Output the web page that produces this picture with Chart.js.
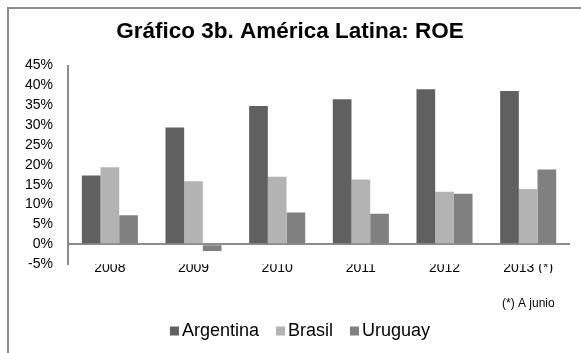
<!DOCTYPE html>
<html>
<head>
<meta charset="utf-8">
<script src="https://cdn.jsdelivr.net/npm/chart.js@4/dist/chart.umd.min.js"></script>
<style>
  html, body { margin: 0; padding: 0; background: #fff; }
  #wrap {
    position: relative;
    width: 581px;
    height: 353px;
    overflow: hidden;
  }
  #frame {
    position: absolute;
    left: 7px;
    top: 7px;
    right: -10px;
    bottom: -10px;
    border-top: 2px solid #8c8c8c;
    border-left: 2px solid #8c8c8c;
  }
  canvas { position: absolute; left: 0; top: 0; }
</style>
</head>
<body>
<div id="wrap">
  <div id="frame"></div>
  <canvas id="roe-chart" width="581" height="353"></canvas>
</div>
<script>
const years = ["2008", "2009", "2010", "2011", "2012", "2013 (*)"]
const argentina = [17.3, 29.4, 34.8, 36.5, 39.0, 38.6]
const brasil = [19.4, 15.9, 17.0, 16.3, 13.2, 13.9]
const uruguay = [7.3, -1.7, 8.0, 7.7, 12.7, 18.8]
const yTicks = [-5, 0, 5, 10, 15, 20, 25, 30, 35, 40, 45]

const FONT = "'Liberation Sans', Arial, sans-serif"

// legend and footnote drawn by hand so the box/text spacing stays tight
const extras = {
  id: "extras",
  afterDraw(chart) {
    const ctx = chart.ctx
    ctx.save()
    ctx.fillStyle = "#000"
    ctx.font = "12px " + FONT
    ctx.textBaseline = "middle"
    ctx.textAlign = "left"
    ctx.fillText("(*) A junio", 502, 304)

    ctx.font = "18px " + FONT
    const box = 9
    const gap = 3
    const spacing = 17
    const items = chart.data.datasets.map((ds) => ({
      label: ds.label,
      color: ds.backgroundColor,
      w: box + gap + ctx.measureText(ds.label).width,
    }))
    const total = items.reduce((s, it) => s + it.w, 0) + spacing * (items.length - 1)
    let x = 300 - total / 2
    const y = 331
    items.forEach((it) => {
      ctx.fillStyle = it.color
      ctx.fillRect(x, y - box / 2, box, box)
      ctx.fillStyle = "#000"
      ctx.fillText(it.label, x + box + gap, y)
      x += it.w + spacing
    })
    ctx.restore()
  },
}

new Chart(document.getElementById("roe-chart"), {
  type: "bar",
  data: {
    labels: years,
    datasets: [
      { label: "Argentina", data: argentina, backgroundColor: "#606060" },
      { label: "Brasil", data: brasil, backgroundColor: "#b3b3b3" },
      { label: "Uruguay", data: uruguay, backgroundColor: "#808080" },
    ],
  },
  options: {
    responsive: false,
    animation: false,
    layout: { padding: { left: 10, right: 11, top: 0, bottom: 80 } },
    datasets: {
      bar: {
        categoryPercentage: 0.67,
        barPercentage: 1,
      },
    },
    plugins: {
      legend: { display: false },
      tooltip: { enabled: false },
      title: {
        display: true,
        text: "Gráfico 3b. América Latina: ROE",
        color: "#000",
        font: { family: FONT, size: 22.5, weight: "bold" },
        padding: { top: 18, bottom: 20.5 },
      },
    },
    scales: {
      x: {
        grid: { display: false, drawTicks: false },
        border: { display: false },
        ticks: {
          color: "#000",
          font: { family: FONT, size: 14 },
          padding: -4,
          maxRotation: 0,
        },
      },
      y: {
        min: -5,
        max: 45,
        afterBuildTicks(scale) {
          scale.ticks = yTicks.map((v) => ({ value: v }))
        },
        grid: {
          drawTicks: false,
          lineWidth: 2,
          color: (c) => (c.tick && c.tick.value === 0 ? "#8c8c8c" : "rgba(0,0,0,0)"),
        },
        border: { display: true, color: "#8c8c8c", width: 2 },
        ticks: {
          color: "#000",
          font: { family: FONT, size: 14 },
          padding: 15,
          callback: (v) => v + "%",
        },
      },
    },
  },
  plugins: [extras],
})
</script>
</body>
</html>
